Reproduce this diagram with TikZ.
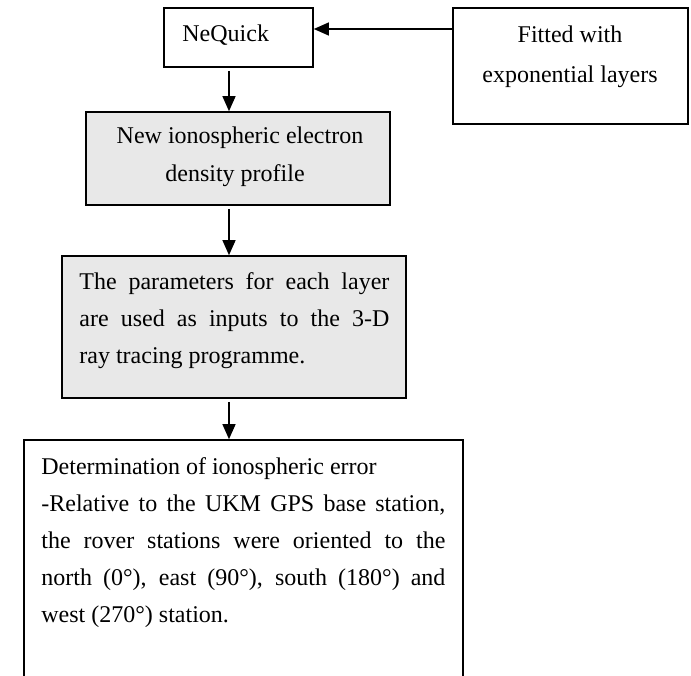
\documentclass[tikz,border=0pt]{standalone}
\usepackage{fontspec}
\setmainfont{Liberation Serif}
\usetikzlibrary{arrows.meta,fit}
\definecolor{boxgray}{RGB}{232,232,232}
\begin{document}
\begin{tikzpicture}[x=0.5pt,y=-0.5pt,
  frame/.style={draw=black, line width=0.8pt, inner sep=0pt},
  shaded/.style={frame, fill=boxgray},
  txt/.style={inner sep=0pt, font=\fontsize{12pt}{14pt}\selectfont},
  arr/.style={line width=0.6pt, -{Triangle[length=7.5pt,width=6.5pt]}}]
\useasboundingbox (0,0) rectangle (691,675);

% boxes
\node[frame,  fit={(164,8) (313,67)}]   (nq)  {};
\node[frame,  fit={(453,8) (688,124)}]  (fit) {};
\node[shaded, fit={(86,112) (390,205)}] (den) {};
\node[shaded, fit={(62,256) (406,398)}] (par) {};
\begin{scope}
  \clip (0,0) rectangle (691,675);
  \node[frame, fit={(24,440) (463,700)}] (err) {};
\end{scope}

% texts
\node[txt, anchor=base west] (tnq) at (182,41) {NeQuick};
\node[txt, anchor=base] (tf1) at (570,42) {Fitted with};
\node[txt, anchor=base] (tf2) at (570,82) {exponential layers};
\node[txt, anchor=base] (td1) at (240,143) {New ionospheric electron};
\node[txt, anchor=base] (td2) at (235,181) {density profile};
\node[txt, anchor=base west] (tp1) at (79,289) {\makebox[155pt][s]{The parameters for each layer}};
\node[txt, anchor=base west] (tp2) at (79,326) {\makebox[155pt][s]{are used as inputs to the 3-D}};
\node[txt, anchor=base west] (tp3) at (79,363) {ray tracing programme.};
\node[txt, anchor=base west] (te1) at (41,474) {Determination of ionospheric error};
\node[txt, anchor=base west] (te2) at (41,511) {\makebox[202pt][s]{-Relative to the UKM GPS base station,}};
\node[txt, anchor=base west] (te3) at (41,548) {\makebox[202pt][s]{the rover stations were oriented to the}};
\node[txt, anchor=base west] (te4) at (41,585) {\makebox[202pt][s]{north (0°), east (90°), south (180°) and}};
\node[txt, anchor=base west] (te5) at (41,622) {west (270°) station.};

% connectors
\coordinate (ay) at (0,29);
\coordinate (ax) at (229,0);
\draw[arr] (fit.west |- ay) -- (nq.east |- ay);
\draw[arr] ([yshift=-1.5pt]ax |- nq.south) -- (ax |- den.north);
\draw[arr] ([yshift=-1.5pt]ax |- den.south) -- (ax |- par.north);
\draw[arr] ([yshift=-1.5pt]ax |- par.south) -- (ax |- err.north);
\end{tikzpicture}
\end{document}
